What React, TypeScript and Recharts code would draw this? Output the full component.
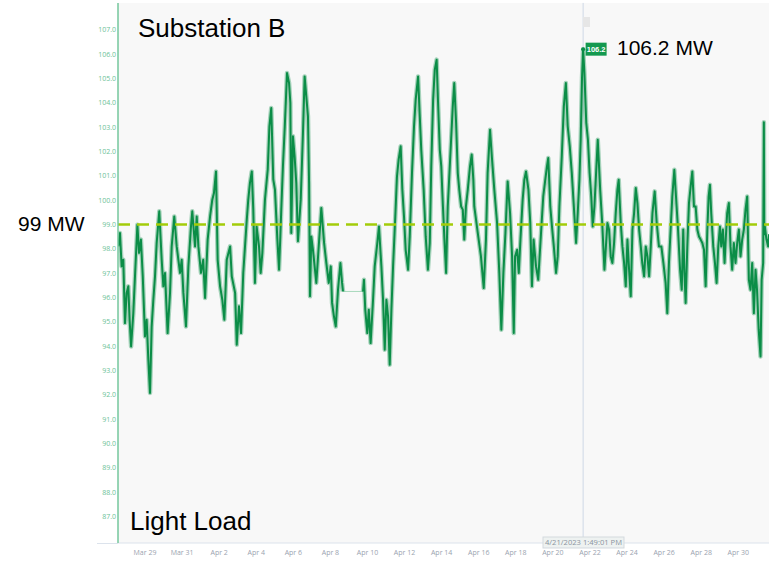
import { CartesianGrid, Line, LineChart, ReferenceDot, ReferenceLine, XAxis, YAxis } from "recharts";

// day offset from Mar 27 2023 00:00, load in MW
const loadReadings: [number, number][] = [
  [0.56, 98.1], [0.65, 98.65], [0.74, 97.28], [0.83, 97.55], [0.92, 94.95], [1.01, 96.19], [1.1, 96.46], [1.17, 95.09],
  [1.25, 93.99], [1.37, 95.36], [1.46, 96.87], [1.59, 98.99], [1.68, 97.83], [1.78, 98.38], [1.88, 96.87], [2.0, 94.4],
  [2.09, 95.09], [2.18, 93.45], [2.27, 92.08], [2.36, 94.81], [2.45, 95.91], [2.54, 96.87], [2.63, 98.24], [2.77, 99.54],
  [2.9, 97.55], [2.99, 96.46], [3.08, 97.01], [3.22, 94.54], [3.35, 96.19], [3.44, 98.1], [3.58, 99.33], [3.71, 98.1],
  [3.8, 97.55], [3.89, 97.01], [3.98, 97.55], [4.07, 96.19], [4.21, 94.81], [4.34, 97.28], [4.48, 98.92], [4.55, 99.54],
  [4.7, 98.1], [4.79, 99.33], [4.88, 98.1], [5.02, 97.01], [5.14, 97.55], [5.24, 95.98], [5.38, 98.38], [5.51, 99.33],
  [5.63, 100.02], [5.72, 100.29], [5.83, 101.18], [5.92, 97.55], [6.05, 96.46], [6.17, 95.91], [6.28, 95.09], [6.41, 97.55],
  [6.59, 98.1], [6.68, 96.87], [6.86, 96.19], [6.95, 94.06], [7.07, 95.64], [7.18, 94.54], [7.3, 97.01], [7.49, 99.2],
  [7.57, 100.02], [7.66, 100.7], [7.76, 101.18], [7.84, 99.61], [7.93, 96.6], [8.02, 98.92], [8.15, 98.1], [8.24, 97.01],
  [8.33, 97.83], [8.47, 100.02], [8.62, 101.25], [8.71, 103.03], [8.81, 103.78], [8.92, 100.84], [9.01, 100.43], [9.14, 98.38],
  [9.23, 97.14], [9.3, 98.51], [9.35, 99.61], [9.44, 101.39], [9.54, 103.03], [9.66, 105.22], [9.77, 104.81], [9.84, 103.99],
  [9.89, 98.65], [9.98, 102.62], [10.07, 101.8], [10.16, 100.7], [10.25, 98.31], [10.4, 100.02], [10.52, 102.76], [10.61, 105.08],
  [10.7, 104.26], [10.79, 103.44], [10.85, 100.7], [10.9, 96.05], [10.97, 98.51], [11.06, 97.96], [11.15, 97.28], [11.24, 96.6],
  [11.37, 98.1], [11.51, 99.68], [11.66, 98.24], [11.78, 97.42], [11.91, 96.6], [12.02, 97.28], [12.09, 95.78], [12.19, 95.23],
  [12.29, 94.81], [12.41, 96.32], [12.54, 97.42], [12.63, 96.6], [12.68, 96.25],
  [13.76, 96.25], [13.81, 96.73], [13.88, 95.5], [13.99, 94.54], [14.07, 95.5], [14.17, 94.13], [14.3, 95.91], [14.39, 97.28],
  [14.53, 98.24], [14.62, 98.92], [14.75, 97.28], [14.84, 95.91], [14.93, 93.86], [15.02, 95.91], [15.11, 95.23], [15.2, 93.24],
  [15.29, 95.5], [15.38, 97.28], [15.5, 99.33], [15.59, 100.97], [15.68, 101.66], [15.79, 102.21], [15.88, 100.43], [15.97, 99.33],
  [16.06, 97.96], [16.19, 97.14], [16.28, 98.51], [16.4, 101.11], [16.51, 103.03], [16.6, 104.13], [16.73, 105.08], [16.82, 103.44],
  [16.9, 102.07], [17.03, 100.43], [17.14, 98.51], [17.26, 97.14], [17.36, 98.24], [17.44, 101.39], [17.54, 104.13], [17.63, 105.36],
  [17.73, 105.77], [17.8, 104.13], [17.9, 102.07], [17.98, 101.39], [18.07, 99.74], [18.15, 98.38], [18.24, 97.01], [18.33, 99.74],
  [18.42, 101.11], [18.51, 102.48], [18.6, 103.85], [18.68, 104.81], [18.78, 103.17], [18.87, 101.11], [18.95, 100.43], [19.05, 99.74],
  [19.14, 99.61], [19.22, 98.38], [19.31, 99.74], [19.41, 100.43], [19.53, 101.39], [19.62, 101.87], [19.71, 100.84], [19.76, 99.74],
  [19.95, 98.65], [20.12, 97.69], [20.27, 96.39], [20.39, 98.38], [20.48, 101.11], [20.61, 102.89], [20.72, 101.66], [20.84, 100.43],
  [20.99, 99.06], [21.11, 97.01], [21.22, 94.68], [21.33, 97.01], [21.44, 98.65], [21.56, 100.77], [21.69, 99.47], [21.8, 97.69],
  [21.89, 94.54], [21.96, 97.69], [22.07, 97.96], [22.16, 97.01], [22.25, 98.38], [22.37, 100.02], [22.46, 100.84], [22.55, 101.18],
  [22.68, 100.43], [22.78, 99.06], [22.87, 96.46], [22.96, 98.38], [23.09, 97.28], [23.21, 96.73], [23.36, 98.65], [23.48, 100.15],
  [23.59, 100.84], [23.68, 101.39], [23.75, 101.73], [23.86, 99.74], [23.95, 98.92], [24.05, 98.1], [24.17, 97.01], [24.26, 97.69],
  [24.35, 99.74], [24.48, 101.8], [24.59, 103.85], [24.7, 104.81], [24.8, 103.03], [24.91, 102.21], [25.02, 101.11], [25.13, 99.74],
  [25.25, 98.24], [25.34, 99.47], [25.43, 100.84], [25.5, 102.48], [25.57, 105.0], [25.63, 106.2], [25.7, 105.22], [25.8, 103.17],
  [25.89, 102.48], [25.98, 101.11], [26.07, 100.15], [26.15, 98.92], [26.24, 99.74], [26.33, 101.11], [26.42, 102.48], [26.55, 100.43],
  [26.66, 99.06], [26.78, 97.14], [26.94, 99.06], [27.03, 98.79], [27.12, 97.69], [27.21, 97.42], [27.3, 98.24], [27.39, 99.47],
  [27.48, 100.43], [27.55, 100.84], [27.66, 99.06], [27.75, 98.1], [27.84, 97.42], [27.93, 96.46], [28.02, 98.38], [28.11, 97.14],
  [28.2, 96.05], [28.29, 98.79], [28.38, 99.47], [28.47, 100.5], [28.56, 99.88], [28.65, 98.79], [28.74, 98.1], [28.82, 97.42],
  [28.92, 96.87], [29.01, 98.1], [29.1, 97.69], [29.19, 96.87], [29.28, 98.1], [29.37, 99.47], [29.49, 100.36], [29.6, 99.06],
  [29.72, 98.1], [29.85, 98.1], [29.96, 97.42], [30.08, 96.6], [30.17, 95.36], [30.26, 97.42], [30.35, 98.79], [30.44, 100.15],
  [30.55, 101.25], [30.64, 100.15], [30.75, 98.79], [30.86, 97.14], [30.95, 96.32], [31.03, 98.79], [31.09, 97.14], [31.16, 95.78],
  [31.25, 98.1], [31.34, 99.88], [31.43, 100.56], [31.52, 101.18], [31.61, 99.74], [31.7, 99.74], [31.79, 98.79], [31.88, 98.51],
  [31.97, 98.38], [32.06, 98.24], [32.15, 97.96], [32.24, 96.46], [32.33, 98.79], [32.4, 100.15], [32.47, 100.63], [32.54, 99.47],
  [32.65, 98.1], [32.74, 97.42], [32.83, 96.6], [32.92, 98.1], [33.01, 98.92], [33.08, 98.1], [33.17, 98.79], [33.26, 97.42],
  [33.33, 98.51], [33.4, 99.47], [33.49, 99.88], [33.58, 98.1], [33.67, 97.14], [33.76, 98.24], [33.85, 97.42], [33.94, 98.24],
  [34.03, 98.79], [34.12, 97.69], [34.21, 98.38], [34.3, 98.79], [34.39, 99.61], [34.48, 100.15], [34.57, 96.73], [34.66, 96.32],
  [34.75, 97.42], [34.84, 95.36], [34.93, 97.14], [35.01, 96.32], [35.1, 94.68], [35.2, 93.58], [35.26, 96.73], [35.34, 97.42],
  [35.38, 103.2], [35.4, 98.6], [35.43, 98.92], [35.52, 98.38], [35.61, 98.1], [35.66, 98.6],
];

// straight connector the source draws across the missing readings around Apr 9-10
const gapBridge: [number, number][] = [[12.68, 96.25], [13.76, 96.25]];

const dateTicks = [2, 4, 6, 8, 10, 12, 14, 16, 18, 20, 22, 24, 26, 28, 30, 32, 34];
const dateLabels = ["Mar 29", "Mar 31", "Apr 2", "Apr 4", "Apr 6", "Apr 8", "Apr 10", "Apr 12", "Apr 14", "Apr 16", "Apr 18", "Apr 20", "Apr 22", "Apr 24", "Apr 26", "Apr 28", "Apr 30"];
const mwTicks = [87, 88, 89, 90, 91, 92, 93, 94, 95, 96, 97, 98, 99, 100, 101, 102, 103, 104, 105, 106, 107];
const thresholdMW = 99;
const peak = { t: 25.63, mw: 106.2, stamp: "4/21/2023 1:49:01 PM" };

const GREEN = "#0b8d47";
const SANS = "'Liberation Sans', Arial, sans-serif";

const rows: { t: number; mw: number | null }[] = [];
loadReadings.forEach(([t, mw], i) => {
  const prev = loadReadings[i - 1];
  if (prev && t - prev[0] > 0.5) rows.push({ t: (t + prev[0]) / 2, mw: null });
  rows.push({ t, mw });
});
const bridgeRows = gapBridge.map(([t, mw]) => ({ t, mw }));

function PeakBadge(props: any) {
  const { cx, cy } = props;
  if (cx == null || cy == null) return null;
  return (
    <g>
      <circle cx={cx} cy={cy} r={2} fill={GREEN} />
      <rect x={cx + 2.5} y={cy - 6.5} width={21} height={13} fill="#13994f" />
      <text x={cx + 13} y={cy + 2.6} textAnchor="middle" fontSize={7.5} fontWeight={700} fill="#fff" fontFamily={SANS}>
        {peak.mw.toFixed(1)}
      </text>
    </g>
  );
}

export default function App() {
  return (
    <div style={{ position: "absolute", left: 0, top: 0, width: 769, height: 561, background: "#fff", overflow: "hidden" }}>
      <LineChart width={769} height={561} data={rows} margin={{ top: 2.9, right: 0, bottom: 0, left: 0 }}>
        <CartesianGrid fill="#f8f8f8" horizontal={false} vertical={false} />
        <XAxis
          dataKey="t"
          type="number"
          domain={[0.544, 35.656]}
          allowDataOverflow
          ticks={dateTicks}
          tickFormatter={(d) => dateLabels[dateTicks.indexOf(d)] ?? ""}
          height={18}
          tick={{ fontSize: 7, fill: "#9aa3af", fontFamily: "'Open Sans', sans-serif" }}
          tickLine={false}
          tickSize={0}
          tickMargin={7}
          axisLine={{ stroke: "#dce3ec" }}
          interval={0}
        />
        <YAxis
          type="number"
          domain={[85.92, 108.1]}
          allowDataOverflow
          ticks={mwTicks}
          tickFormatter={(v) => Number(v).toFixed(1)}
          width={118}
          tick={{ fontSize: 7, fill: "#6cc297", fontFamily: "'Open Sans', sans-serif" }}
          tickLine={false}
          tickSize={0}
          tickMargin={2}
          axisLine={{ stroke: "#74c79d", strokeWidth: 1.5 }}
          interval={0}
        />
        <ReferenceLine x={peak.t} stroke="#cfd8e6" strokeWidth={1} />
        <Line
          data={bridgeRows}
          dataKey="mw"
          stroke="#a9d9bd"
          strokeWidth={1}
          dot={false}
          isAnimationActive={false}
        />
        {/* soft halo under the trace to mimic the dense minute-level band */}
        <Line
          dataKey="mw"
          stroke={GREEN}
          strokeOpacity={0.35}
          strokeWidth={4.5}
          strokeLinejoin="round"
          dot={false}
          activeDot={false}
          isAnimationActive={false}
        />
        <Line
          dataKey="mw"
          stroke={GREEN}
          strokeWidth={2}
          strokeLinejoin="round"
          dot={false}
          activeDot={false}
          isAnimationActive={false}
        />
        <ReferenceLine y={thresholdMW} stroke="#a3cc0a" strokeWidth={2.5} strokeDasharray="12 7" />
        <ReferenceDot x={peak.t} y={peak.mw} shape={PeakBadge} />
      </LineChart>
      <svg width={769} height={561} style={{ position: "absolute", left: 0, top: 0, pointerEvents: "none" }}>
        <line x1={97} x2={118} y1={543.5} y2={543.5} stroke="#dce3ec" />
        <rect x={583} y={17} width={7} height={10} fill="#e6e6e6" />
        <rect x={543} y={537} width={81} height={11} fill="#eef2f1" stroke="#d3d9de" />
        <text x={583.5} y={545.2} textAnchor="middle" fontSize={7.6} fill="#8a939e" fontFamily="'Open Sans', sans-serif">
          {peak.stamp}
        </text>
        <text x={138} y={37} fontSize={26} fill="#000" fontFamily={SANS}>Substation B</text>
        <text x={617} y={55} fontSize={21} fill="#000" fontFamily={SANS}>{peak.mw} MW</text>
        <text x={18} y={231} fontSize={21} fill="#000" fontFamily={SANS}>{thresholdMW} MW</text>
        <text x={130} y={530} fontSize={26} fill="#000" fontFamily={SANS}>Light Load</text>
      </svg>
    </div>
  );
}
